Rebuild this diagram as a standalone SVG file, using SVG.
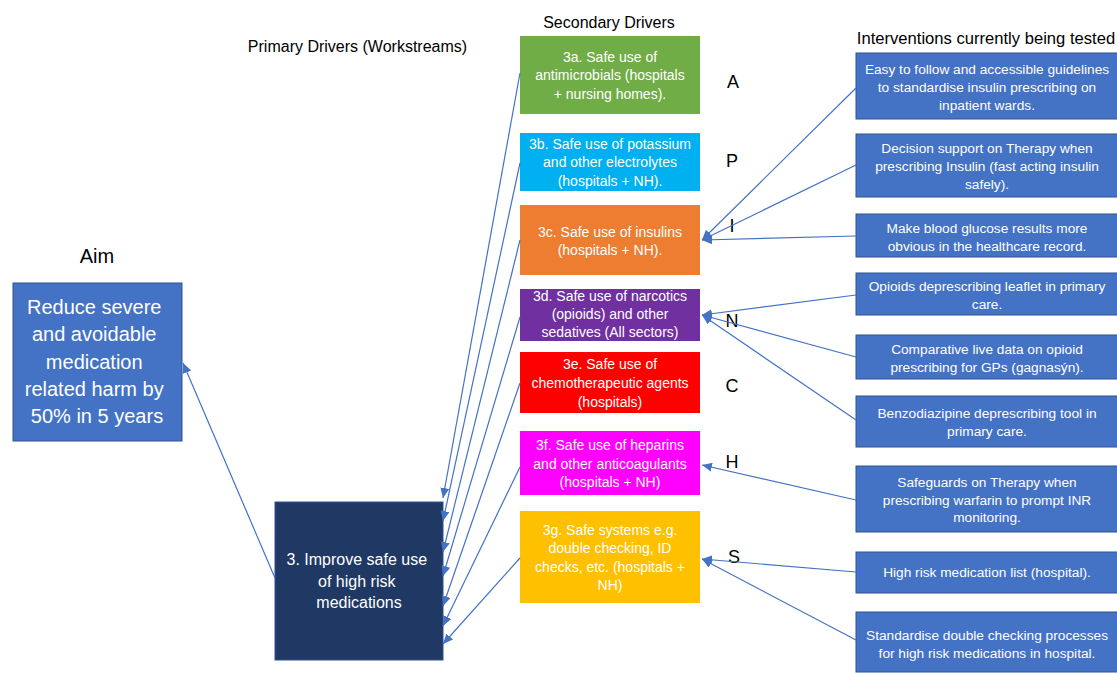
<svg xmlns="http://www.w3.org/2000/svg" width="1117" height="673" viewBox="0 0 1117 673">
  <style>
    text { font-family: "Liberation Sans", Arial, sans-serif; }
    .hdr { font-size: 16px; fill: #000; }
    .ltr { font-size: 18px; fill: #000; text-anchor: middle; }
    .w { fill: #fff; text-anchor: middle; }
    .sec { font-size: 14px; }
    .int { font-size: 13.7px; }
    .ibox { fill: #4472C4; stroke: #2F528F; stroke-width: 1; }
    .link { stroke: #4472C4; stroke-width: 1.2; fill: none; marker-end: url(#arrow); }
  </style>
  <defs>
    <marker id="arrow" markerUnits="userSpaceOnUse" markerWidth="11" markerHeight="9" refX="10" refY="4.5" orient="auto">
      <path d="M0,0 L10,4.5 L0,9 z" fill="#4472C4"/>
    </marker>
  </defs>
  <rect width="1117" height="673" fill="#fff"/>

  <!-- column headings -->
  <g id="headings">
    <text class="hdr" x="97" y="263" text-anchor="middle" style="font-size:20px">Aim</text>
    <text class="hdr" x="357.5" y="52" text-anchor="middle">Primary Drivers (Workstreams)</text>
    <text class="hdr" x="609" y="28" text-anchor="middle">Secondary Drivers</text>
    <text class="hdr" x="986" y="44" text-anchor="middle" style="font-size:16.6px">Interventions currently being tested</text>
  </g>

  <!-- aim -->
  <g id="aim">
    <rect x="13" y="283" width="169" height="158" class="ibox"/>
    <text class="w" style="font-size:20px">
      <tspan x="97" y="314">Reduce severe</tspan>
      <tspan x="97" y="341">and avoidable</tspan>
      <tspan x="97" y="369">medication</tspan>
      <tspan x="97" y="396">related harm by</tspan>
      <tspan x="97" y="423">50% in 5 years</tspan>
    </text>
  </g>

  <!-- primary driver -->
  <g id="primary">
    <rect x="275" y="502" width="168" height="158" fill="#203864" stroke="#2F528F" stroke-width="1"/>
    <text class="w" style="font-size:16px">
      <tspan x="359" y="565">3. Improve safe use</tspan>
      <tspan x="359" y="587">of high risk</tspan>
      <tspan x="359" y="608">medications</tspan>
    </text>
  </g>

  <!-- secondary drivers -->
  <g id="sec-3a">
    <rect x="520" y="36" width="180" height="78" fill="#70AD47"/>
    <text class="w sec"><tspan x="610" y="61.5">3a. Safe use of</tspan><tspan x="610" y="80">antimicrobials (hospitals</tspan><tspan x="610" y="98.5">+ nursing homes).</tspan></text>
  </g>
  <g id="sec-3b">
    <rect x="520" y="133" width="180" height="58" fill="#00B0F0"/>
    <text class="w sec"><tspan x="610" y="148.5">3b. Safe use of potassium</tspan><tspan x="610" y="167">and other electrolytes</tspan><tspan x="610" y="185.5">(hospitals + NH).</tspan></text>
  </g>
  <g id="sec-3c">
    <rect x="520" y="205" width="180" height="70" fill="#ED7D31"/>
    <text class="w sec"><tspan x="610" y="236.5">3c. Safe use of insulins</tspan><tspan x="610" y="254.5">(hospitals + NH).</tspan></text>
  </g>
  <g id="sec-3d">
    <rect x="520" y="289" width="180" height="52" fill="#7030A0"/>
    <text class="w sec"><tspan x="610" y="301">3d. Safe use of narcotics</tspan><tspan x="610" y="319">(opioids) and other</tspan><tspan x="610" y="337">sedatives (All sectors)</tspan></text>
  </g>
  <g id="sec-3e">
    <rect x="520" y="352" width="180" height="61" fill="#FF0000"/>
    <text class="w sec"><tspan x="610" y="369">3e. Safe use of</tspan><tspan x="610" y="388">chemotherapeutic agents</tspan><tspan x="610" y="406.5">(hospitals)</tspan></text>
  </g>
  <g id="sec-3f">
    <rect x="520" y="431" width="180" height="64" fill="#FF00FF"/>
    <text class="w sec"><tspan x="610" y="450">3f. Safe use of heparins</tspan><tspan x="610" y="468.5">and other anticoagulants</tspan><tspan x="610" y="487">(hospitals + NH)</tspan></text>
  </g>
  <g id="sec-3g">
    <rect x="520" y="511" width="180" height="92" fill="#FFC000"/>
    <text class="w sec"><tspan x="610" y="535">3g. Safe systems e.g.</tspan><tspan x="610" y="553">double checking, ID</tspan><tspan x="610" y="571.5">checks, etc. (hospitals +</tspan><tspan x="610" y="590">NH)</tspan></text>
  </g>

  <!-- category letters -->
  <g id="letters">
    <text class="ltr" x="733" y="88">A</text>
    <text class="ltr" x="732" y="167">P</text>
    <text class="ltr" x="732" y="232">I</text>
    <text class="ltr" x="732" y="327">N</text>
    <text class="ltr" x="732" y="392">C</text>
    <text class="ltr" x="732" y="468">H</text>
    <text class="ltr" x="734" y="563">S</text>
  </g>

  <!-- interventions -->
  <g id="int-1">
    <rect x="856" y="53" width="262" height="66" class="ibox"/>
    <text class="w int"><tspan x="987" y="74">Easy to follow and accessible guidelines</tspan><tspan x="987" y="92">to standardise insulin prescribing on</tspan><tspan x="987" y="110">inpatient wards.</tspan></text>
  </g>
  <g id="int-2">
    <rect x="856" y="134" width="262" height="63" class="ibox"/>
    <text class="w int"><tspan x="987" y="153">Decision support on Therapy when</tspan><tspan x="987" y="171">prescribing Insulin (fast acting insulin</tspan><tspan x="987" y="189">safely).</tspan></text>
  </g>
  <g id="int-3">
    <rect x="856" y="214" width="262" height="43" class="ibox"/>
    <text class="w int"><tspan x="987" y="233">Make blood glucose results more</tspan><tspan x="987" y="250.5">obvious in the healthcare record.</tspan></text>
  </g>
  <g id="int-4">
    <rect x="856" y="273" width="262" height="42" class="ibox"/>
    <text class="w int"><tspan x="987" y="291">Opioids deprescribing leaflet in primary</tspan><tspan x="987" y="308.5">care.</tspan></text>
  </g>
  <g id="int-5">
    <rect x="856" y="335" width="262" height="44" class="ibox"/>
    <text class="w int"><tspan x="987" y="354">Comparative live data on opioid</tspan><tspan x="987" y="371.5">prescribing for GPs (gagnasýn).</tspan></text>
  </g>
  <g id="int-6">
    <rect x="856" y="396" width="262" height="51" class="ibox"/>
    <text class="w int"><tspan x="987" y="418">Benzodiazipine deprescribing tool in</tspan><tspan x="987" y="435.5">primary care.</tspan></text>
  </g>
  <g id="int-7">
    <rect x="856" y="466" width="262" height="66" class="ibox"/>
    <text class="w int"><tspan x="987" y="487">Safeguards on Therapy when</tspan><tspan x="987" y="504.5">prescribing warfarin to prompt INR</tspan><tspan x="987" y="522">monitoring.</tspan></text>
  </g>
  <g id="int-8">
    <rect x="856" y="552" width="262" height="41" class="ibox"/>
    <text class="w int"><tspan x="987" y="577">High risk medication list (hospital).</tspan></text>
  </g>
  <g id="int-9">
    <rect x="856" y="612" width="262" height="60" class="ibox"/>
    <text class="w int"><tspan x="987" y="640">Standardise double checking processes</tspan><tspan x="987" y="657.5">for high risk medications in hospital.</tspan></text>
  </g>

  <!-- connectors -->
  <g id="connectors">
    <!-- interventions to secondary drivers -->
    <line class="link" x1="856" y1="88" x2="702" y2="240"/>
    <line class="link" x1="856" y1="165" x2="702" y2="240"/>
    <line class="link" x1="856" y1="236" x2="702" y2="240"/>
    <line class="link" x1="856" y1="295" x2="702" y2="315"/>
    <line class="link" x1="856" y1="357" x2="702" y2="315"/>
    <line class="link" x1="856" y1="420" x2="702" y2="315"/>
    <line class="link" x1="856" y1="500" x2="702" y2="465"/>
    <line class="link" x1="856" y1="572" x2="702" y2="559"/>
    <line class="link" x1="856" y1="640" x2="702" y2="559"/>
    <!-- secondary drivers to primary driver -->
    <line class="link" x1="520" y1="73" x2="443" y2="498"/>
    <line class="link" x1="520" y1="163" x2="443" y2="521"/>
    <line class="link" x1="520" y1="240" x2="443" y2="552"/>
    <line class="link" x1="520" y1="317" x2="443" y2="576"/>
    <line class="link" x1="520" y1="383" x2="443" y2="606"/>
    <line class="link" x1="520" y1="467" x2="443" y2="626"/>
    <line class="link" x1="520" y1="558" x2="443" y2="644"/>
    <!-- primary driver to aim -->
    <line class="link" x1="275" y1="578" x2="183" y2="363"/>
  </g>
</svg>
